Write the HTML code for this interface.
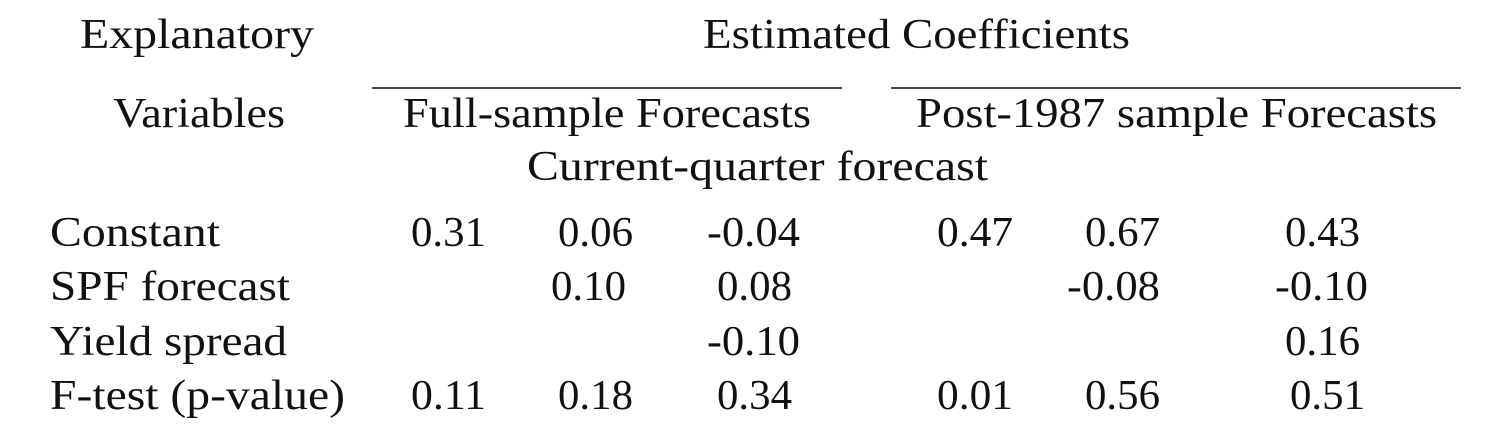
<!DOCTYPE html>
<html><head><meta charset="utf-8"><style>
html,body{margin:0;padding:0;background:#fff;}
svg{display:block;}
text{font-family:"Liberation Serif",serif;font-size:42px;fill:#111;}
</style></head><body>
<svg width="1511" height="437" viewBox="0 0 1511 437">
<text x="80" y="48" textLength="234" lengthAdjust="spacingAndGlyphs">Explanatory</text>
<text x="703" y="48" textLength="427" lengthAdjust="spacingAndGlyphs">Estimated Coefficients</text>
<line x1="372" y1="88" x2="842" y2="88" stroke="#111" stroke-width="1.6"/>
<line x1="891" y1="88" x2="1461" y2="88" stroke="#111" stroke-width="1.6"/>
<text x="113" y="127" textLength="172" lengthAdjust="spacingAndGlyphs">Variables</text>
<text x="403" y="127" textLength="408" lengthAdjust="spacingAndGlyphs">Full-sample Forecasts</text>
<text x="916" y="127" textLength="521" lengthAdjust="spacingAndGlyphs">Post-1987 sample Forecasts</text>
<text x="527" y="180" textLength="461" lengthAdjust="spacingAndGlyphs">Current-quarter forecast</text>

<text x="50" y="246" textLength="170" lengthAdjust="spacingAndGlyphs">Constant</text>
<text x="50" y="300" textLength="240" lengthAdjust="spacingAndGlyphs">SPF forecast</text>
<text x="50" y="355" textLength="237" lengthAdjust="spacingAndGlyphs">Yield spread</text>
<text x="50" y="409" textLength="295" lengthAdjust="spacingAndGlyphs">F-test (p-value)</text>

<text x="411" y="246" textLength="75" lengthAdjust="spacingAndGlyphs">0.31</text>
<text x="558" y="246" textLength="75" lengthAdjust="spacingAndGlyphs">0.06</text>
<text x="707" y="246" textLength="93" lengthAdjust="spacingAndGlyphs">-0.04</text>
<text x="937" y="246" textLength="76" lengthAdjust="spacingAndGlyphs">0.47</text>
<text x="1085" y="246" textLength="75" lengthAdjust="spacingAndGlyphs">0.67</text>
<text x="1285" y="246" textLength="75" lengthAdjust="spacingAndGlyphs">0.43</text>

<text x="551" y="300" textLength="75" lengthAdjust="spacingAndGlyphs">0.10</text>
<text x="717" y="300" textLength="75" lengthAdjust="spacingAndGlyphs">0.08</text>
<text x="1067" y="300" textLength="93" lengthAdjust="spacingAndGlyphs">-0.08</text>
<text x="1275" y="300" textLength="93" lengthAdjust="spacingAndGlyphs">-0.10</text>

<text x="707" y="355" textLength="93" lengthAdjust="spacingAndGlyphs">-0.10</text>
<text x="1285" y="355" textLength="75" lengthAdjust="spacingAndGlyphs">0.16</text>

<text x="411" y="409" textLength="75" lengthAdjust="spacingAndGlyphs">0.11</text>
<text x="558" y="409" textLength="75" lengthAdjust="spacingAndGlyphs">0.18</text>
<text x="717" y="409" textLength="75" lengthAdjust="spacingAndGlyphs">0.34</text>
<text x="937" y="409" textLength="76" lengthAdjust="spacingAndGlyphs">0.01</text>
<text x="1085" y="409" textLength="75" lengthAdjust="spacingAndGlyphs">0.56</text>
<text x="1290" y="409" textLength="75" lengthAdjust="spacingAndGlyphs">0.51</text>
</svg>
</body></html>
